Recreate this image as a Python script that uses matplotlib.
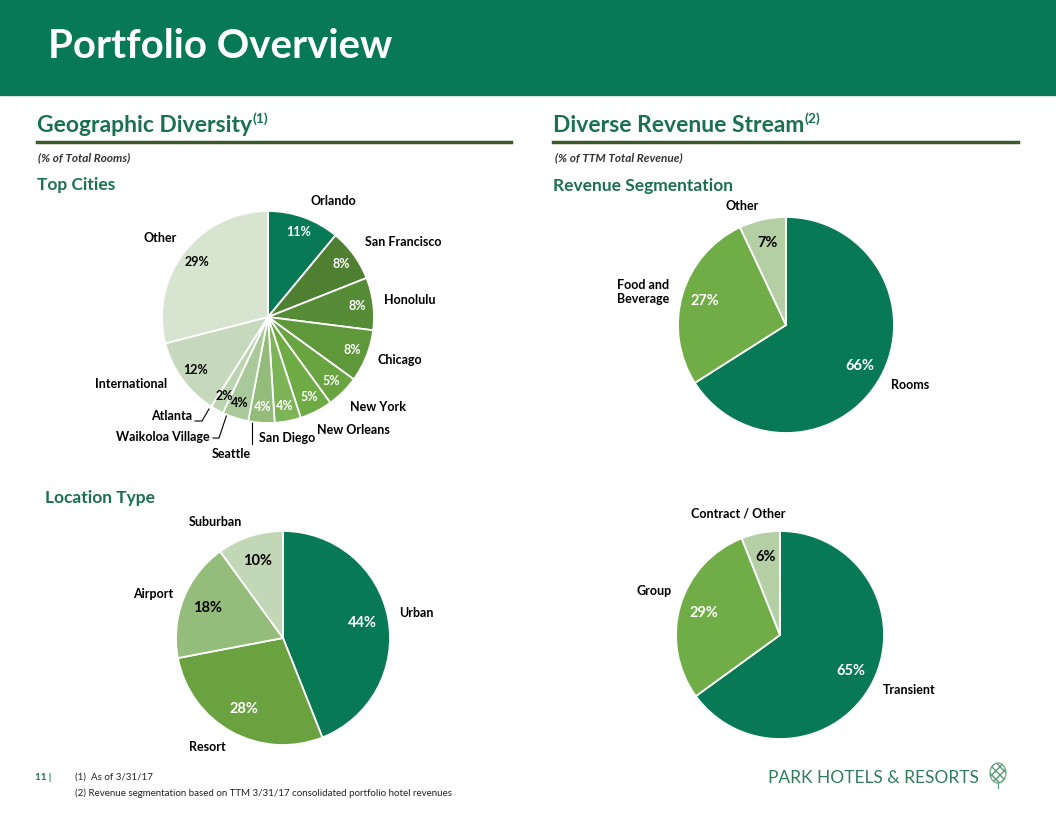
import matplotlib
matplotlib.use('Agg')
import matplotlib.pyplot as plt
from matplotlib.patches import Rectangle, Ellipse

# ---- data ----
city_names = ['Orlando', 'San Francisco', 'Honolulu', 'Chicago', 'New York', 'New Orleans',
              'San Diego', 'Seattle', 'Waikoloa Village', 'Atlanta', 'International', 'Other']
city_pct = [11, 8, 8, 8, 5, 5, 4, 4, 4, 2, 12, 29]

location_names = ['Urban', 'Resort', 'Airport', 'Suburban']
location_pct = [44, 28, 18, 10]

revenue_names = ['Rooms', 'Food and\nBeverage', 'Other']
revenue_pct = [66, 27, 7]

segment_names = ['Transient', 'Group', 'Contract / Other']
segment_pct = [65, 29, 6]

# ---- styles ----
W, H = 1056, 816
GREEN = '#077a55'
HEAD = '#1b7050'
LINE = '#3e5a2a'
FONT = ['Lato', 'DejaVu Sans']

city_colors = ['#077a55', '#4f7f31', '#578c37', '#5f983b', '#68a440', '#6fab45',
               '#7db458', '#93bc7b', '#a9c99a', '#bcd4af', '#c6d9bd', '#d7e4cf']
city_txt = ['white'] * 8 + ['black'] * 4
location_colors = ['#077a55', '#6aa240', '#94bc7a', '#c2d7b5']
location_txt = ['white', 'white', 'black', 'black']
revenue_colors = ['#077a55', '#70ad47', '#b4cfa4']
revenue_txt = ['white', 'white', 'black']

fig = plt.figure(figsize=(W / 100, H / 100), dpi=100)
ax0 = fig.add_axes([0, 0, 1, 1])
ax0.set_xlim(0, W)
ax0.set_ylim(H, 0)
ax0.axis('off')


def txt(x, y, s, size=9, color='black', weight='bold', ha='center', va='center', family=FONT, **kw):
    return ax0.text(x, y, s, fontsize=size, color=color, fontweight=weight, ha=ha, va=va,
                    family=family, **kw)


def header(x, y, s, sup):
    t = txt(x, y, s, size=16.5, color=HEAD, ha='left')
    fig.canvas.draw()
    bb = t.get_window_extent()
    txt(bb.x1 + 0.5, y - 6, sup, size=10, color=HEAD, ha='left')


def draw_pie(cx, cy, r, values, colors, tcolors, pctdist, pctsize):
    ax = fig.add_axes([(cx - r) / W, (H - cy - r) / H, 2 * r / W, 2 * r / H])
    wedges, _, autotexts = ax.pie(values, colors=colors, startangle=90, counterclock=False,
                                  autopct=lambda p: f'{round(p)}%', pctdistance=pctdist,
                                  wedgeprops=dict(edgecolor='white', linewidth=1.3))
    for t, c in zip(autotexts, tcolors):
        t.set_color(c)
        t.set_fontsize(pctsize)
        t.set_fontweight('bold')
        t.set_family(FONT)
    ax.set_xlim(-1, 1)
    ax.set_ylim(-1, 1)
    return ax


# header band
ax0.add_patch(Rectangle((0, 0), W, 95, color=GREEN, zorder=0))
txt(48, 46, 'Portfolio Overview', size=29, color='white', ha='left')

# section headers
header(37, 125, 'Geographic Diversity', '(1)')
ax0.plot([37, 511], [142, 142], color=LINE, lw=2.5)
txt(38, 158, '(% of Total Rooms)', size=8.5, color='#333333', ha='left', style='italic')
txt(37, 185, 'Top Cities', size=12.5, color=HEAD, ha='left')
txt(45, 498, 'Location Type', size=12.5, color=HEAD, ha='left')

header(553, 125, 'Diverse Revenue Stream', '(2)')
ax0.plot([553, 1018], [142, 142], color=LINE, lw=2.5)
txt(555, 158, '(% of TTM Total Revenue)', size=8.5, color='#333333', ha='left', style='italic')
txt(553, 186, 'Revenue Segmentation', size=12.5, color=HEAD, ha='left')

# pies
draw_pie(268, 317, 106, city_pct, city_colors, city_txt, 0.85, 9)
draw_pie(283, 638, 107, location_pct, location_colors, location_txt, 0.76, 10.5)
draw_pie(786, 325, 108, revenue_pct, revenue_colors, revenue_txt, 0.78, 10.5)
draw_pie(780, 635, 104, segment_pct, revenue_colors, revenue_txt, 0.76, 10.5)

# outer labels
city_pos = [(333, 201), (403, 242), (410, 300), (400, 360), (378, 407), (353, 430),
            (287, 438), (231, 454), (163, 437), (172, 416), (131, 384), (160, 238)]
for name, (x, y) in zip(city_names, city_pos):
    txt(x, y, name, size=9)
ax0.plot([195, 202, 209], [421, 421, 409], color='black', lw=0.8)
ax0.plot([213, 219, 227], [438, 438, 414], color='black', lw=0.8)
ax0.plot([252, 252], [421, 444], color='black', lw=0.8)

for name, (x, y) in zip(location_names, [(416, 613), (207, 747), (153, 594), (215, 522)]):
    txt(x, y, name, size=9)
for name, (x, y) in zip(revenue_names, [(910, 385), (643, 292), (742, 206)]):
    txt(x, y, name, size=9, linespacing=1.2)
for name, (x, y) in zip(segment_names, [(909, 690), (654, 591), (738, 514)]):
    txt(x, y, name, size=9)

# footer
txt(35, 777, '11 |', size=7, color=HEAD, ha='left')
txt(75, 777, '(1)  As of 3/31/17', size=7, color='#222222', weight='normal', ha='left')
txt(75, 793, '(2) Revenue segmentation based on TTM 3/31/17 consolidated portfolio hotel revenues',
    size=7, color='#222222', weight='normal', ha='left')

# logo
txt(768, 778, 'PARK HOTELS & RESORTS', size=12.5, color='#2e7d5b', weight='normal', ha='left')
ax0.add_patch(Ellipse((998, 773), 16, 20, fill=False, edgecolor='#5a9a7a', hatch='xxxx', lw=0.8))
ax0.plot([998, 998], [783, 788], color='#5a9a7a', lw=0.8)

fig.savefig('out.png', dpi=100)
